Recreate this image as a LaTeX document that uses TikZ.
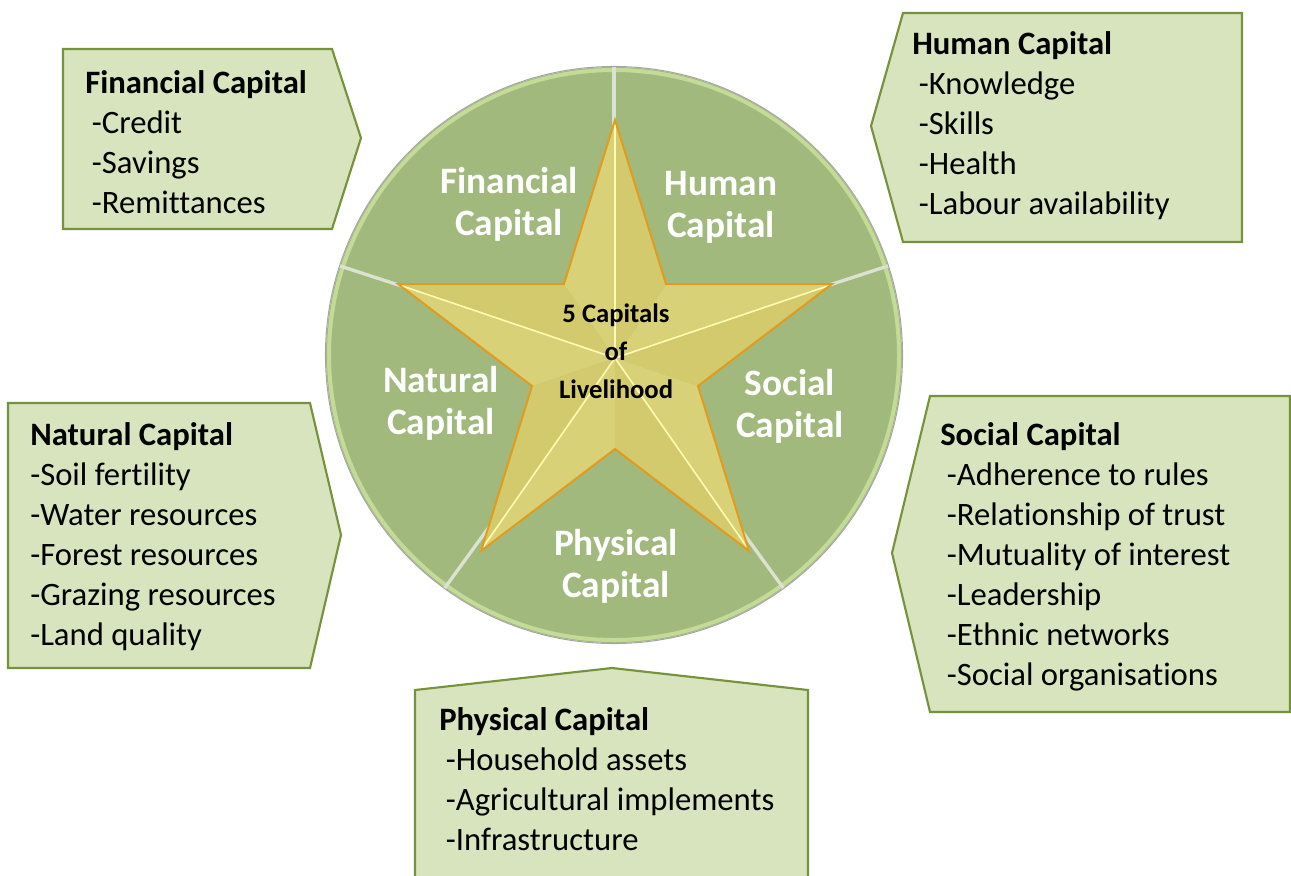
\documentclass[tikz,border=0pt]{standalone}
\usepackage{fontspec}
\setmainfont[Ligatures={NoCommon}]{Carlito}
\usetikzlibrary{positioning}

\definecolor{boxfill}{HTML}{D7E4BD}
\definecolor{boxline}{HTML}{76923C}
\definecolor{segfill}{HTML}{A2B97D}
\definecolor{segrim}{HTML}{C4DB98}
\definecolor{sepline}{HTML}{DCE2D2}
\definecolor{starfill}{HTML}{D6CE6E}
\definecolor{starline}{HTML}{E39B1E}

\begin{document}
\begin{tikzpicture}[x=0.75pt, y=-0.75pt,
  callout/.style={draw=boxline, fill=boxfill, line width=1.6pt},
  listbox/.style={anchor=base west, align=left, inner sep=0pt, font=\fontsize{24.5}{30}\selectfont},
  segtext/.style={align=center, text=white, font=\bfseries\fontsize{28}{31.5}\selectfont}]

\useasboundingbox (0,0) rectangle (1291,875);

% Wheel
\coordinate (c) at (614,355);
\fill[segfill] (c) circle[radius=288];
\draw[segrim, line width=3pt] (c) circle[radius=285];
\draw[gray!70, line width=0.8pt] (c) circle[radius=288.5];
\draw[sepline, line width=2.5pt] (c) -- ++(-90:288);
\draw[sepline, line width=2.5pt] (c) -- ++(-18:288);
\draw[sepline, line width=2.5pt] (c) -- ++(54:288);
\draw[sepline, line width=2.5pt] (c) -- ++(126:288);
\draw[sepline, line width=2.5pt] (c) -- ++(198:288);

% Star
\coordinate (s) at (615,358);
\foreach \a in {-90,-18,54,126,198} {
  \fill[starfill!94!white] (s) -- ({615+0.96*91*cos(\a-36)},{358+91*sin(\a-36)})
    -- ({615+0.96*238*cos(\a)},{358+238*sin(\a)}) -- cycle;
  \fill[starfill!98!black] (s) -- ({615+0.96*238*cos(\a)},{358+238*sin(\a)})
    -- ({615+0.96*91*cos(\a+36)},{358+91*sin(\a+36)}) -- cycle;
  \draw[yellow!30!white, line width=1.2pt] (s) -- ({615+0.96*238*cos(\a)},{358+238*sin(\a)});
}
\draw[starline, line width=1.5pt, line join=miter]
  (615,120) -- (666,284) -- (832,284) -- (698,386) -- (749,551)
  -- (615,449) -- (481,551) -- (532,386) -- (398,284) -- (564,284) -- cycle;

% Wheel labels
\node[segtext] (fin) at (509,204) {Financial\\Capital};
\node[segtext] (hum) at (721,207) {Human\\Capital};
\node[segtext] (nat) at (441,403) {Natural\\Capital};
\node[segtext] (soc) at (790,406) {Social\\Capital};
\node[segtext] (phy) at (616,566) {Physical\\Capital};
\node[align=center, font=\bfseries\fontsize{20}{28.5}\selectfont] (core) at (616,351)
  {5 Capitals\\of\\Livelihood};

% Callouts
\draw[callout] (63,49) -- (332,49) -- (361,138) -- (332,229) -- (63,229) -- cycle;
\draw[callout] (903,13) -- (1242,13) -- (1242,242) -- (903,242) -- (871,126) -- cycle;
\draw[callout] (8,403) -- (310,403) -- (341,535) -- (310,668) -- (8,668) -- cycle;
\draw[callout] (930,396) -- (1290,396) -- (1290,712) -- (930,712) -- (892,553) -- cycle;
\draw[callout] (415,690) -- (612,668) -- (808,690) -- (808,880) -- (415,880) -- cycle;

% Callout texts (placed at the baseline of their last line)
\node[listbox] (finlist) at (85,213) {\textbf{Financial Capital}\\
  \hspace{5pt}-Credit\\\hspace{5pt}-Savings\\\hspace{5pt}-Remittances};
\node[listbox] (humlist) at (912,214) {\textbf{Human Capital}\\
  \hspace{5pt}-Knowledge\\\hspace{5pt}-Skills\\\hspace{5pt}-Health\\
  \hspace{5pt}-Labour availability};
\node[listbox] (natlist) at (30,645) {\textbf{Natural Capital}\\
  -Soil fertility\\-Water resources\\-Forest resources\\
  -Grazing resources\\-Land quality};
\node[listbox] (soclist) at (940,685) {\textbf{Social Capital}\\
  \hspace{5pt}-Adherence to rules\\\hspace{5pt}-Relationship of trust\\
  \hspace{5pt}-Mutuality of interest\\\hspace{5pt}-Leadership\\
  \hspace{5pt}-Ethnic networks\\\hspace{5pt}-Social organisations};
\node[listbox] (phylist) at (439,850) {\textbf{Physical Capital}\\
  \hspace{5pt}-Household assets\\\hspace{5pt}-Agricultural implements\\
  \hspace{5pt}-Infrastructure};

\end{tikzpicture}
\end{document}
